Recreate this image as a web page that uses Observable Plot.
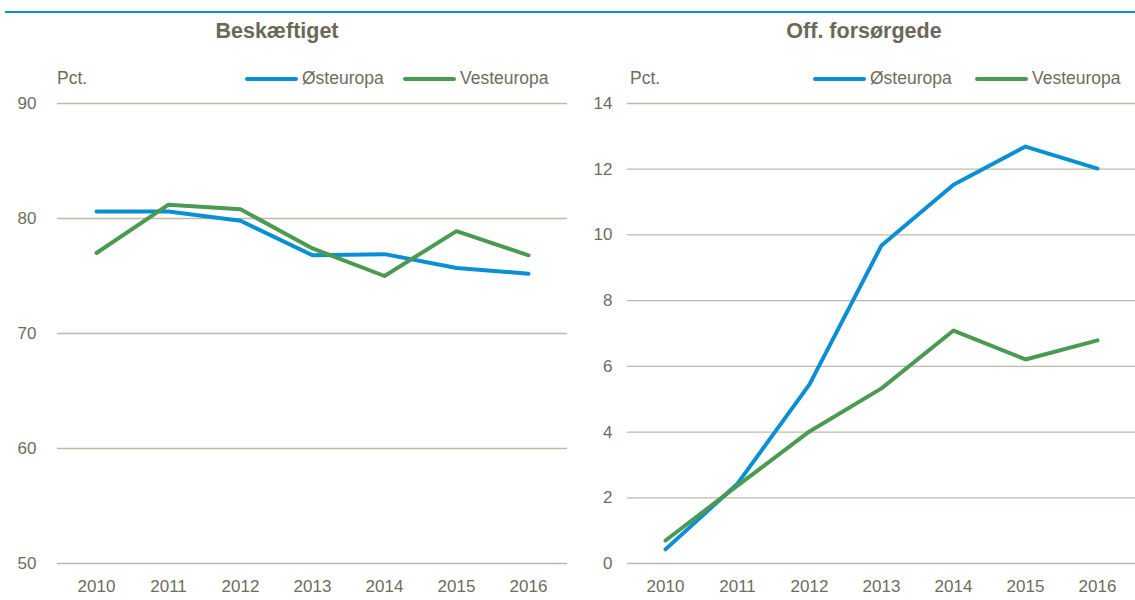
<!DOCTYPE html>
<html><head><meta charset="utf-8">
<script src="https://cdn.jsdelivr.net/npm/d3@7"></script>
<script src="https://cdn.jsdelivr.net/npm/@observablehq/plot@0.6"></script>
<style>
body{margin:0;background:#fff;font-family:"Liberation Sans",Arial,sans-serif;color:#706c5c;}
#wrap{position:relative;width:1135px;height:600px;overflow:hidden}
.rule{position:absolute;left:5px;top:11px;width:1130px;height:2px;background:#0a8fd4}
.title{position:absolute;top:19px;font-size:21.5px;font-weight:bold;white-space:nowrap;transform:translateX(-50%);color:#6b6858}
.pct{position:absolute;top:68px;font-size:17.5px}
.leg{position:absolute;top:68px;font-size:17.5px;display:flex;align-items:center;white-space:nowrap}
.leg .sw{display:inline-block;width:53px;height:4px;border-radius:2px;margin-right:4px}
.panel{position:absolute;top:55px}
</style></head>
<body><div id="wrap"><div class="rule"></div></div>
<script>
const years = [2010, 2011, 2012, 2013, 2014, 2015, 2016];
const seriesNames = ["Østeuropa", "Vesteuropa"];
const colors = ["#0a8fd4", "#4b9a52"];
const beskOst = [80.6, 80.6, 79.8, 76.8, 76.9, 75.7, 75.2];
const beskVest = [77.0, 81.2, 80.8, 77.4, 75.0, 78.9, 76.8];
const forsOst = [0.43, 2.43, 5.45, 9.68, 11.53, 12.69, 12.02];
const forsVest = [0.7, 2.37, 4.02, 5.33, 7.09, 6.21, 6.79];
const beskTicks = [50, 60, 70, 80, 90];
const forsTicks = [0, 2, 4, 6, 8, 10, 12, 14];

const wrap = document.getElementById("wrap");
const textColor = "#706c5c";
const gridColor = "#bdbaa9";

function rows(a, b) {
  const out = [];
  years.forEach((y, i) => out.push({year: y, value: a[i], s: seriesNames[0]}));
  years.forEach((y, i) => out.push({year: y, value: b[i], s: seriesNames[1]}));
  return out;
}

function panel(cfg) {
  const data = rows(cfg.a, cfg.b);
  const chart = Plot.plot({
    width: cfg.width, height: 545,
    marginTop: 48, marginBottom: 37, marginLeft: 57, marginRight: cfg.mr,
    style: {fontFamily: '"Liberation Sans",Arial,sans-serif', fontSize: "17px", color: textColor, background: "transparent"},
    x: {type: "point", domain: years, padding: 0.5, label: null, tickSize: 0, tickPadding: 16, tickFormat: d => String(d)},
    y: {domain: cfg.domain, ticks: cfg.ticks, label: null, tickSize: 0, tickPadding: cfg.tp},
    color: {domain: seriesNames, range: colors},
    marks: [
      Plot.ruleY(cfg.ticks, {stroke: gridColor, strokeWidth: 1.3}),
      Plot.line(data, {x: "year", y: "value", stroke: "s", strokeWidth: 4, strokeLinejoin: "round", strokeLinecap: "round"})
    ]
  });
  const div = document.createElement("div");
  div.className = "panel";
  div.style.left = cfg.left + "px";
  div.appendChild(chart);
  wrap.appendChild(div);

  const t = document.createElement("div");
  t.className = "title"; t.textContent = cfg.title; t.style.left = cfg.titleX + "px";
  wrap.appendChild(t);
  const p = document.createElement("div");
  p.className = "pct"; p.textContent = "Pct."; p.style.left = cfg.pctX + "px";
  wrap.appendChild(p);
  seriesNames.forEach((n, i) => {
    const l = document.createElement("div");
    l.className = "leg"; l.style.left = cfg.legX[i] + "px";
    l.innerHTML = `<span class="sw" style="background:${colors[i]}"></span><span>${n}</span>`;
    wrap.appendChild(l);
  });
}

panel({a: beskOst, b: beskVest, domain: [50, 90], ticks: beskTicks, width: 570, mr: 3, tp: 21, left: 0,
  title: "Beskæftiget", titleX: 277, pctX: 57, legX: [245, 403]});
panel({a: forsOst, b: forsVest, domain: [0, 14], ticks: forsTicks, width: 565, mr: 0, tp: 15, left: 570,
  title: "Off. forsørgede", titleX: 864, pctX: 630, legX: [813, 975]});
</script></body></html>
